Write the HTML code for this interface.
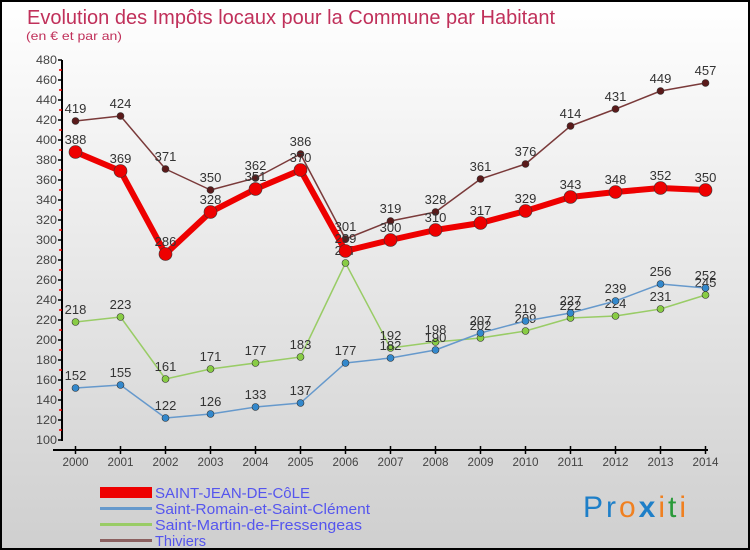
<!DOCTYPE html>
<html><head><meta charset="utf-8"><style>
html,body{margin:0;padding:0;width:750px;height:550px;overflow:hidden}
svg{display:block;font-family:"Liberation Sans",sans-serif}
</style></head><body>
<svg width="750" height="550" viewBox="0 0 750 550">
<defs><linearGradient id="bg" x1="0" y1="0" x2="0" y2="1"><stop offset="0" stop-color="#ffffff"/><stop offset="1" stop-color="#cfcfcf"/></linearGradient></defs>
<rect x="1" y="1" width="748" height="548" fill="url(#bg)" stroke="#000" stroke-width="2"/>
<text x="27" y="24" font-size="20" fill="#c0305a" textLength="528" lengthAdjust="spacingAndGlyphs">Evolution des Impôts locaux pour la Commune par Habitant</text>
<text x="26" y="40" font-size="12" fill="#c0305a" textLength="96" lengthAdjust="spacingAndGlyphs">(en € et par an)</text>
<g id="axes"></g>
<g id="series"></g>
<g id="legend">
<rect x="100" y="487" width="52" height="11" fill="#e00"/>
<text x="155" y="498" font-size="15" fill="#5555ee" textLength="155" lengthAdjust="spacingAndGlyphs">SAINT-JEAN-DE-CôLE</text>
<rect x="100" y="507" width="52" height="3" fill="#6699cc"/>
<text x="155" y="514" font-size="15" fill="#5555ee" textLength="215" lengthAdjust="spacingAndGlyphs">Saint-Romain-et-Saint-Clément</text>
<rect x="100" y="523" width="52" height="3" fill="#99cc66"/>
<text x="155" y="530" font-size="15" fill="#5555ee" textLength="207" lengthAdjust="spacingAndGlyphs">Saint-Martin-de-Fressengeas</text>
<rect x="100" y="539" width="52" height="3" fill="#8b6060"/>
<text x="155" y="546" font-size="15" fill="#5555ee" textLength="51" lengthAdjust="spacingAndGlyphs">Thiviers</text>
</g>
<text x="583" y="517" font-size="30" textLength="103" lengthAdjust="spacing"><tspan fill="#1e7fc8">Pr</tspan><tspan fill="#f08020">o</tspan><tspan fill="#1e7fc8" font-weight="bold">x</tspan><tspan fill="#f08020">i</tspan><tspan fill="#2a9a3a">t</tspan><tspan fill="#f08020">i</tspan></text>
</svg>
<script>
const years=[2000,2001,2002,2003,2004,2005,2006,2007,2008,2009,2010,2011,2012,2013,2014];
const yTicks=[100,120,140,160,180,200,220,240,260,280,300,320,340,360,380,400,420,440,460,480];
const saintJean=[388,369,286,328,351,370,289,300,310,317,329,343,348,352,350];
const saintRomain=[152,155,122,126,133,137,177,182,190,207,219,227,239,256,252];
const saintMartin=[218,223,161,171,177,183,277,192,198,202,209,222,224,231,245];
const thiviers=[419,424,371,350,362,386,301,319,328,361,376,414,431,449,457];
const NS="http://www.w3.org/2000/svg";
const X0=75.5,X1=705.5,Y0=440,YS=1;
function xs(i){return X0+(X1-X0)*i/(years.length-1);}
function ys(v){return Y0-(v-100)*YS;}
function mk(tag,attrs,parent){const e=document.createElementNS(NS,tag);for(const k in attrs)e.setAttribute(k,attrs[k]);parent.appendChild(e);return e;}
const ax=document.getElementById('axes');
let yl=mk('line',{x1:62,y1:ys(480),x2:62,y2:441,stroke:'#000','stroke-width':2},ax);


let xl=mk('line',{x1:53,y1:450,x2:708,y2:450,stroke:'#000','stroke-width':2},ax);


yTicks.forEach((v,i)=>{
  mk('line',{x1:58,y1:ys(v),x2:62,y2:ys(v),stroke:'#000','stroke-width':1.5},ax);
  if(i<yTicks.length-1)mk('line',{x1:59,y1:ys(v+10),x2:62,y2:ys(v+10),stroke:'#e00','stroke-width':1.5},ax);
  const t=mk('text',{x:57,y:ys(v)+4,'font-size':12,fill:'#444','text-anchor':'end',textLength:21,lengthAdjust:'spacingAndGlyphs'},ax);
  t.textContent=v;
  
  
});
years.forEach((y,i)=>{
  mk('line',{x1:xs(i),y1:446,x2:xs(i),y2:454,stroke:'#000','stroke-width':1.5},ax);
  const t=mk('text',{x:xs(i),y:466,'font-size':12,fill:'#444','text-anchor':'middle',textLength:26,lengthAdjust:'spacingAndGlyphs'},ax);
  t.textContent=y;
  
  
});
const sg=document.getElementById('series');
function draw(arr,name,color,w,r,dot){
  const g=mk('g',{},sg);
  
  
  const p=mk('polyline',{points:arr.map((v,i)=>xs(i)+','+ys(v)).join(' '),fill:'none',stroke:color,'stroke-width':w,'stroke-linejoin':'round'},g);
  
  
  arr.forEach((v,i)=>{
    const c=mk('circle',{cx:xs(i),cy:ys(v),r:r,fill:dot,stroke:'#333','stroke-width':0.6},g);
    
    
    const t=mk('text',{x:xs(i),y:ys(v)-8,'font-size':13,fill:'#333','text-anchor':'middle'},g);
    t.textContent=v;
    
    
  });
}
draw(saintMartin,'saint-martin','#99cc66',1.5,3.5,'#88cc44');
draw(saintRomain,'saint-romain','#6699cc',1.5,3.5,'#3388cc');
draw(thiviers,'thiviers','#7a3a3a',1.5,3.5,'#5a1a1a');
draw(saintJean,'saint-jean','#ee0000',6,6.5,'#ee0000');
</script>
</body></html>
